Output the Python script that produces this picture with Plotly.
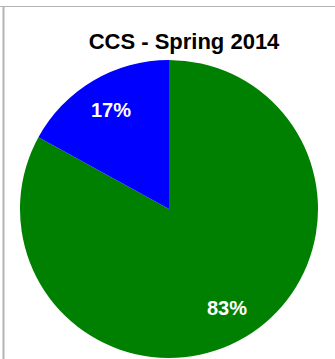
import math
import plotly.graph_objects as go

labels = ["Yes", "No"]
values = [83, 17]
colors = ["#008000", "#0000FF"]
title_text = "CCS - Spring 2014"

W, H = 335, 359
cx, cy, r = 169, 209, 149
label_k = 0.77

fig = go.Figure(go.Pie(
    labels=labels,
    values=values,
    marker=dict(colors=colors, line=dict(width=0)),
    sort=False,
    direction="clockwise",
    rotation=0,
    textinfo="none",
    showlegend=False,
    hoverinfo="label+percent",
    domain=dict(x=[(cx - r) / W, (cx + r) / W], y=[1 - (cy + r) / H, 1 - (cy - r) / H]),
))

# percentage labels placed at slice mid-angles (clockwise from 12 o'clock)
total = sum(values)
annotations = []
cum = 0
for v in values:
    mid = (cum + v / 2) / total * 2 * math.pi
    cum += v
    px = cx + label_k * r * math.sin(mid)
    py = cy - label_k * r * math.cos(mid)
    annotations.append(dict(
        x=px / W, y=1 - py / H, xref="paper", yref="paper",
        text=f"{round(v / total * 100)}%", showarrow=False,
        xanchor="center", yanchor="middle",
        font=dict(family="Liberation Sans, Arial", size=20, color="white", weight="bold"),
    ))

fig.update_layout(
    width=W, height=H,
    margin=dict(l=0, r=0, t=0, b=0),
    paper_bgcolor="white",
    title=dict(text=title_text, x=184 / W, xanchor="center", y=1 - 41 / H, yanchor="middle",
               font=dict(family="Liberation Sans, Arial", size=22, color="black", weight="bold")),
    annotations=annotations,
    shapes=[
        dict(type="line", xref="paper", yref="paper", x0=0, x1=1, y0=1 - 6.5 / H, y1=1 - 6.5 / H,
             line=dict(color="#b4b4b4", width=1)),
        dict(type="line", xref="paper", yref="paper", x0=3.5 / W, x1=3.5 / W, y0=0, y1=1 - 6 / H,
             line=dict(color="#b4b4b4", width=2)),
    ],
)

fig.write_html("out.html", config={"displayModeBar": False},
               post_script="document.body.style.margin='0';")
